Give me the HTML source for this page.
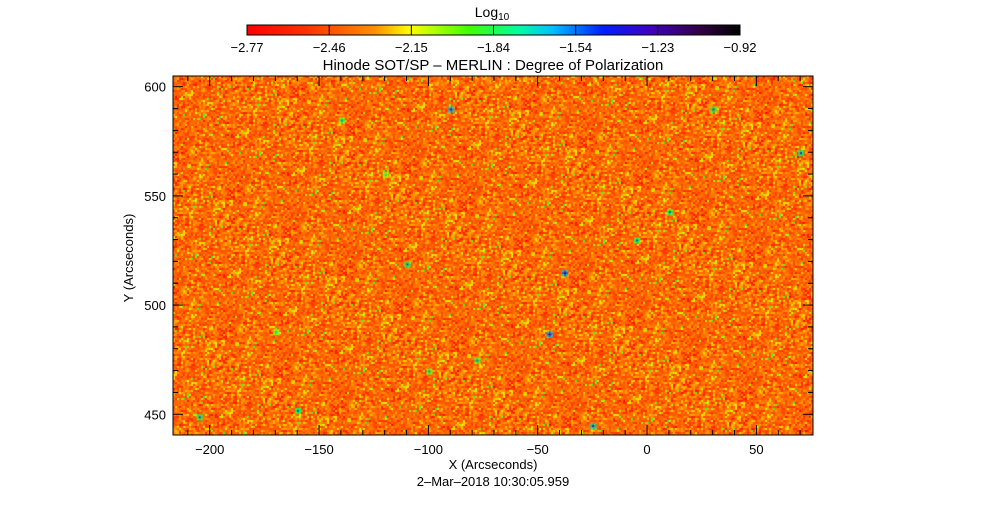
<!DOCTYPE html>
<html><head><meta charset="utf-8"><style>
html,body{margin:0;padding:0;background:#fff;width:987px;height:512px;overflow:hidden}
svg text{font-family:"Liberation Sans",sans-serif;fill:#000}
#map{position:absolute;left:173px;top:76px}
</style></head><body>
<canvas id="map" width="640" height="359"></canvas>
<svg id="chart" width="987" height="512" style="position:absolute;left:0;top:0">
<defs><linearGradient id="cb" x1="0" x2="1" y1="0" y2="0">
<stop offset="0" stop-color="#ff0000"/><stop offset="0.12" stop-color="#ff3000"/><stop offset="0.26" stop-color="#ff9000"/>
<stop offset="0.33" stop-color="#ffff00"/><stop offset="0.45" stop-color="#40ff00"/><stop offset="0.55" stop-color="#00ffa0"/>
<stop offset="0.62" stop-color="#00c0ff"/><stop offset="0.72" stop-color="#0020ff"/><stop offset="0.82" stop-color="#4000c0"/>
<stop offset="0.92" stop-color="#300040"/><stop offset="1" stop-color="#000000"/></linearGradient></defs>
<text x="492" y="17" font-size="14" text-anchor="middle">Log<tspan font-size="10" dy="3">10</tspan></text>
<rect x="247" y="25" width="493" height="10" fill="url(#cb)" stroke="#000" stroke-width="1"/>
<g id="cbticks"></g>
<text x="493" y="70" font-size="15" text-anchor="middle">Hinode SOT/SP – MERLIN : Degree of Polarization</text>
<rect x="173" y="76" width="640" height="359" fill="none" stroke="#000" stroke-width="1"/>
<g id="axes"></g>
<text x="493" y="469" font-size="13" text-anchor="middle">X (Arcseconds)</text>
<text x="0" y="0" font-size="13" text-anchor="middle" transform="translate(133,258) rotate(-90)">Y (Arcseconds)</text>
<text x="493" y="486" font-size="13" text-anchor="middle">2–Mar–2018 10:30:05.959</text>
</svg>
<script>
const cbLabels=["-2.77","-2.46","-2.15","-1.84","-1.54","-1.23","-0.92"];
const xTicks=[-200,-150,-100,-50,0,50];
const yTicks=[450,500,550,600];
const xMinor=[-210,-190,-180,-170,-160,-140,-130,-120,-110,-90,-80,-70,-60,-40,-30,-20,-10,10,20,30,40,60,70];
const yMinor=[460,470,480,490,510,520,530,540,560,570,580,590];
// spots of high polarization (x arcsec, y arcsec, level 0-1)
const spotX=[-90,-38,-45,-110,-5,10,70,-160,-205,-25,-78,-170,-140,-100,30,-120];
const spotY=[590,515,487,519,530,543,570,452,449,445,475,488,585,470,590,560];
const spotV=[0.82,0.85,0.85,0.72,0.7,0.7,0.75,0.72,0.72,0.8,0.68,0.62,0.66,0.66,0.7,0.62];
const L=173,R=813,T=76,B=435,X0=-216.8,X1=75.9,Y0=440.5,Y1=604.9;
const sx=v=>L+(v-X0)/(X1-X0)*(R-L), sy=v=>B-(v-Y0)/(Y1-Y0)*(B-T);
const NS="http://www.w3.org/2000/svg";
function mk(tag,at,par){const e=document.createElementNS(NS,tag);for(const k in at)e.setAttribute(k,at[k]);par.appendChild(e);return e;}
const cbg=document.getElementById('cbticks');
cbLabels.forEach((lb,i)=>{const x=247+i*493/(cbLabels.length-1);
 const t=mk('line',{x1:x,x2:x,y1:25,y2:35,stroke:'#000'},cbg);
 
 
 const tx=mk('text',{x:x,y:52,'font-size':13,'text-anchor':'middle'},cbg);tx.textContent=lb.replace('-','\u2212');
 
 });
const ax=document.getElementById('axes');
xTicks.forEach(v=>{const x=sx(v);
 mk('line',{x1:x,x2:x,y1:B,y2:B-10,stroke:'#000'},ax);mk('line',{x1:x,x2:x,y1:T,y2:T+10,stroke:'#000'},ax);
 const tx=mk('text',{x:x,y:454,'font-size':13,'text-anchor':'middle'},ax);tx.textContent=String(v).replace('-','\u2212');
 
 });
xMinor.forEach(v=>{const x=sx(v);mk('line',{x1:x,x2:x,y1:B,y2:B-5,stroke:'#000'},ax);mk('line',{x1:x,x2:x,y1:T,y2:T+5,stroke:'#000'},ax);});
yTicks.forEach(v=>{const y=sy(v);
 mk('line',{x1:L,x2:L+10,y1:y,y2:y,stroke:'#000'},ax);mk('line',{x1:R,x2:R-10,y1:y,y2:y,stroke:'#000'},ax);
 const tx=mk('text',{x:166,y:y+5,'font-size':13,'text-anchor':'end'},ax);tx.textContent=v;
 
 });
yMinor.forEach(v=>{const y=sy(v);mk('line',{x1:L,x2:L+5,y1:y,y2:y,stroke:'#000'},ax);mk('line',{x1:R,x2:R-5,y1:y,y2:y,stroke:'#000'},ax);});
// texture
const c=document.getElementById('map'),g=c.getContext('2d');
let s=12345;const rnd=()=>{s=(s*1103515245+12345)&0x7fffffff;return s/0x7fffffff;};
const pal=[[255,0,0],[255,40,0],[255,80,0],[255,110,0],[255,150,0],[255,200,0],[240,240,0],[150,255,0],[0,255,60],[0,220,220],[0,60,255],[40,0,150]];
function col(v){v=Math.max(0,Math.min(0.999,v));const f=v*(pal.length-1),i=Math.floor(f),t=f-i,a=pal[i],b=pal[i+1];return `rgb(${a[0]+(b[0]-a[0])*t|0},${a[1]+(b[1]-a[1])*t|0},${a[2]+(b[2]-a[2])*t|0})`;}
for(let y=0;y<359;y+=2)for(let x=0;x<640;x+=2){
 let v=0.24+0.14*(rnd()+rnd()+rnd()-1.5)*1.3;
 if(rnd()<0.12)v+=0.14+0.16*rnd();
 if(rnd()<0.012)v=0.6+0.12*rnd();
 g.fillStyle=col(v);g.fillRect(x,y,2,2);}
spotX.forEach((xv,i)=>{const cx=sx(xv)-L,cy=sy(spotY[i])-T;
 for(let dy=-2;dy<=2;dy+=2)for(let dx=-2;dx<=2;dx+=2){const d=Math.hypot(dx,dy);g.fillStyle=col(spotV[i]+0.2-d*0.08);g.fillRect(cx+dx,cy+dy,2,2);}});
</script>
</body></html>
